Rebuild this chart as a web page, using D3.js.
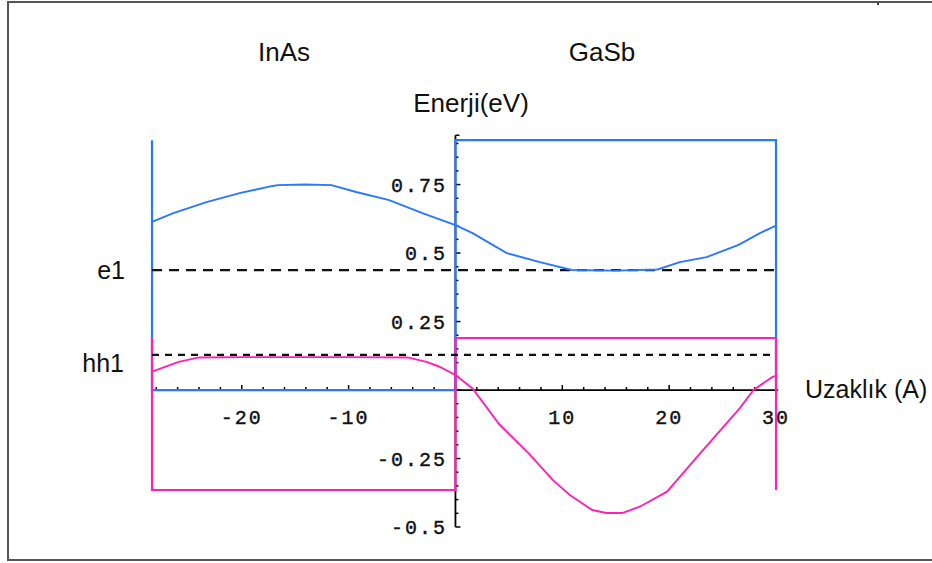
<!DOCTYPE html>
<html><head><meta charset="utf-8">
<script src="https://cdn.jsdelivr.net/npm/d3@7"></script>
<style>body{margin:0;background:#fff}svg{display:block}</style>
</head><body>
<script>
// ---- data ----
const xDomain = [-28.4, 30];
const yDomain = [-0.5, 0.92];
const xTickLabels = [-20, -10, 10, 20, 30];
const yTickLabels = [-0.5, -0.25, 0.25, 0.5, 0.75];
// band edges (conduction: blue, valence: pink)
const conductionBand = [[-28.4, 0.912], [-28.4, 0], [0, 0], [0, 0.912], [30, 0.912], [30, 0]];
const valenceBand = [[-28.4, 0.19], [-28.4, -0.365], [0, -0.365], [0, 0.19], [30, 0.19], [30, -0.365]];
const e1Level = 0.438;
const hh1Level = 0.128;
// electron wavefunction (offset at e1)
const electronX = [-28.4, -26.4, -23.3, -20.2, -17.1, -16.6, -14, -11.6, -9.3, -6.2, -3.1, 0, 1.6, 4.8, 7.9, 10.9, 15, 18.9, 21, 23.5, 26.5, 28.5, 30];
const electronE = [0.614, 0.646, 0.686, 0.719, 0.745, 0.748, 0.75, 0.748, 0.723, 0.693, 0.646, 0.602, 0.573, 0.5, 0.467, 0.438, 0.436, 0.44, 0.467, 0.485, 0.53, 0.573, 0.6];
// heavy-hole wavefunction (offset at hh1)
const holeX = [-28.4, -25.9, -24, -20, -10, -4.5, -2.7, -1.5, 0, 1.6, 4.1, 6.9, 9.1, 10.7, 12.8, 14.1, 15.6, 17.25, 19.8, 22.9, 26.6, 27.9, 29.7, 30];
const holeE = [0.067, 0.103, 0.119, 0.12, 0.12, 0.119, 0.103, 0.085, 0.055, 0.006, -0.125, -0.233, -0.328, -0.383, -0.438, -0.449, -0.449, -0.426, -0.371, -0.231, -0.067, 0, 0.049, 0.05];
const regionLabels = ["InAs", "GaSb"];

// ---- drawing ----
const W = 932, H = 563;
const blue = "#2a78ff", pink = "#ff22b0";
const svg = d3.select("body").append("svg").attr("width", W).attr("height", H);

// frame
svg.append("line").attr("x1", 8).attr("x2", 8).attr("y1", 2).attr("y2", 561).attr("stroke", "#555").attr("stroke-width", 2);
svg.append("line").attr("x1", 7).attr("x2", 932).attr("y1", 2).attr("y2", 2).attr("stroke", "#555").attr("stroke-width", 2);
svg.append("line").attr("x1", 7).attr("x2", 932).attr("y1", 560).attr("y2", 560).attr("stroke", "#555").attr("stroke-width", 2);
svg.append("rect").attr("x", 877).attr("y", 2).attr("width", 2).attr("height", 3).attr("fill", "#444");

const x = d3.scaleLinear().domain(xDomain).range([152, 776]);
const y = d3.scaleLinear().domain(yDomain).range([527, 138]);

// axes lines
const x0 = x(0), y0 = y(0);
svg.append("line").attr("x1", x(xDomain[0])).attr("x2", x(30.2)).attr("y1", y0).attr("y2", y0).attr("stroke", "#000").attr("stroke-width", 1.8);
svg.append("line").attr("x1", x0).attr("x2", x0).attr("y1", y(0.93)).attr("y2", y(-0.5)).attr("stroke", "#000").attr("stroke-width", 1.8);

// x ticks (up), minor every 2
const xt = d3.range(-28, 31, 2);
svg.append("g").selectAll("line").data(xt).join("line")
  .attr("x1", d => x(d)).attr("x2", d => x(d))
  .attr("y1", y0).attr("y2", d => y0 - (d % 10 === 0 ? 5 : 3))
  .attr("stroke", "#000").attr("stroke-width", 1.5);
// y ticks (right), minor every 0.05
const yt = d3.range(-10, 19).map(i => +(i * 0.05).toFixed(2));
svg.append("g").selectAll("line").data(yt).join("line")
  .attr("y1", d => y(d)).attr("y2", d => y(d))
  .attr("x1", x0).attr("x2", d => x0 + (Math.abs(d / 0.25 - Math.round(d / 0.25)) < 1e-6 ? 5 : 3))
  .attr("stroke", "#000").attr("stroke-width", 1.5);
svg.append("line").attr("x1", x0).attr("x2", x0 + 4).attr("y1", y(0.93)).attr("y2", y(0.93)).attr("stroke", "#000").attr("stroke-width", 1.5);

// tick labels
const mono = "'Liberation Mono', 'DejaVu Sans Mono', monospace";
const fmt = v => String(v);
svg.append("g").selectAll("text").data(xTickLabels).join("text")
  .attr("x", d => x(d)).attr("y", 424).attr("text-anchor", "middle")
  .attr("font-family", mono).attr("font-size", 20).attr("letter-spacing", 2)
  .attr("stroke", "#111").attr("stroke-width", 0.4)
  .attr("fill", "#111").text(d => d);
svg.append("g").selectAll("text").data(yTickLabels).join("text")
  .attr("x", 447).attr("y", d => y(d) + 7).attr("text-anchor", "end")
  .attr("font-family", mono).attr("font-size", 20).attr("letter-spacing", 2)
  .attr("stroke", "#111").attr("stroke-width", 0.4)
  .attr("fill", "#111").text(d => fmt(d));

// band edges
const line = d3.line().x(d => x(d[0])).y(d => y(d[1]));
svg.append("path").attr("d", line(conductionBand)).attr("fill", "none").attr("stroke", blue).attr("stroke-width", 2.2);
svg.append("path").attr("d", line(valenceBand)).attr("fill", "none").attr("stroke", pink).attr("stroke-width", 2.2);

// levels
svg.append("line").attr("x1", x(xDomain[0])).attr("x2", x(30)).attr("y1", y(e1Level)).attr("y2", y(e1Level))
  .attr("stroke", "#111").attr("stroke-width", 2.2).attr("stroke-dasharray", "10,7");
svg.append("line").attr("x1", x(xDomain[0])).attr("x2", x(30)).attr("y1", y(hh1Level)).attr("y2", y(hh1Level))
  .attr("stroke", "#111").attr("stroke-width", 2.2).attr("stroke-dasharray", "7,6");

// wavefunctions
const lineXY = d3.line().x(d => x(d[0])).y(d => y(d[1]));
svg.append("path").attr("d", lineXY(electronX.map((v, i) => [v, electronE[i]])))
  .attr("fill", "none").attr("stroke", blue).attr("stroke-width", 1.9);
svg.append("path").attr("d", lineXY(holeX.map((v, i) => [v, holeE[i]])))
  .attr("fill", "none").attr("stroke", pink).attr("stroke-width", 1.9);

// texts
const sans = "'Liberation Sans', Arial, sans-serif";
svg.append("text").attr("x", 284).attr("y", 61).attr("text-anchor", "middle").attr("font-family", sans).attr("font-size", 26).attr("fill", "#111").text(regionLabels[0]);
svg.append("text").attr("x", 602).attr("y", 61).attr("text-anchor", "middle").attr("font-family", sans).attr("font-size", 26).attr("fill", "#111").text(regionLabels[1]);
svg.append("text").attr("x", 471).attr("y", 112).attr("text-anchor", "middle").attr("font-family", sans).attr("font-size", 26).attr("fill", "#111").text("Enerji(eV)");
svg.append("text").attr("x", 805).attr("y", 398).attr("font-family", sans).attr("font-size", 25).attr("fill", "#111").text("Uzaklık (A)");
svg.append("text").attr("x", 125).attr("y", 279).attr("text-anchor", "end").attr("font-family", sans).attr("font-size", 25).attr("fill", "#111").text("e1");
svg.append("text").attr("x", 124).attr("y", 372).attr("text-anchor", "end").attr("font-family", sans).attr("font-size", 25).attr("fill", "#111").text("hh1");
</script>
</body></html>
